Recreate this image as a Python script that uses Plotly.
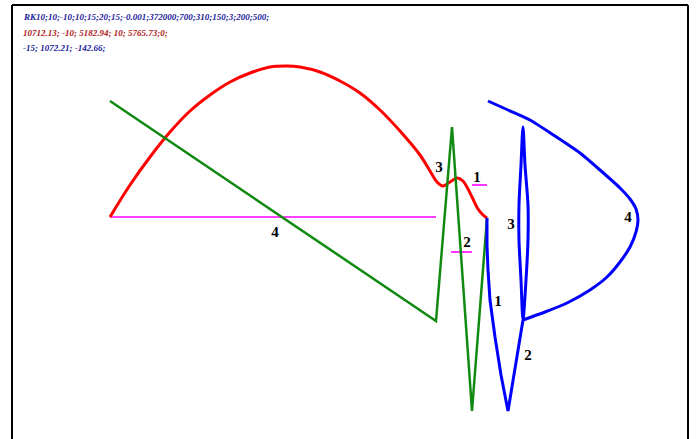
import plotly.graph_objects as go

# Values (screen-like units, y grows downward)
red_x = [110, 130, 150, 170, 190, 210, 230, 250, 270, 287, 300, 320, 340, 360, 380, 400, 420, 430,
         437, 443, 450, 457, 463, 468, 472, 478, 483, 487]
red_y = [217, 185, 157, 132, 111, 95, 82, 73, 67, 66, 67, 72, 81, 93, 110, 131, 155, 171,
         182, 186, 182, 178, 181, 189, 197, 209, 215, 218]

green_x = [110, 436, 452, 472, 487]
green_y = [101, 321, 127, 411, 218]

# blue: strokes 1 and 2, spindle 3, arc 4
blue_stroke_x = [487, 487, 488, 490, 495, 501, 508, 523]
blue_stroke_y = [218, 245, 270, 300, 337, 375, 411, 320]
blue_spindle_x = [523, 521, 519, 519, 521, 523, 525, 528, 528, 526, 523]
blue_spindle_y = [320, 280, 240, 205, 165, 127, 165, 205, 240, 280, 320]
blue_arc_x = [523, 545, 567, 590, 607, 620, 630, 636, 638, 636, 630, 620, 600, 580, 555, 530, 508, 488]
blue_arc_y = [320, 312, 303, 290, 277, 262, 247, 232, 220, 209, 199, 188, 170, 153, 136, 120, 110, 101]

magenta_segments = [([110, 436], [217, 217]), ([472, 487], [185, 185]), ([451, 472], [252, 252])]

label_text = ["3", "1", "2", "4", "3", "1", "2", "4"]
label_x = [439, 477, 467, 275, 511, 498, 528, 628]
label_y = [168, 178, 243, 233, 225, 302, 356, 218]

info_lines = ["RK10;10;-10;10;15;20;15;-0.001;372000;700;310;150;3;200;500;",
              "10712.13; -10; 5182.94; 10; 5765.73;0;",
              "-15; 1072.21; -142.66;"]
info_colors = ["#1c1c9c", "#b01818", "#1c1c9c"]

fig = go.Figure()

for mx, my in magenta_segments:
    fig.add_trace(go.Scatter(x=mx, y=my, mode='lines', line=dict(color='#ff00ff', width=1.6),
                             hoverinfo='skip'))

fig.add_trace(go.Scatter(x=red_x, y=red_y, mode='lines', line=dict(color='#ff0000', width=3, shape='spline'),
                         hoverinfo='skip'))
fig.add_trace(go.Scatter(x=green_x, y=green_y, mode='lines', line=dict(color='#118a11', width=2.5),
                         hoverinfo='skip'))
fig.add_trace(go.Scatter(x=blue_stroke_x, y=blue_stroke_y, mode='lines', line=dict(color='#0000ff', width=3),
                         hoverinfo='skip'))
fig.add_trace(go.Scatter(x=blue_spindle_x, y=blue_spindle_y, mode='lines',
                         line=dict(color='#0000ff', width=3, shape='spline', smoothing=0.8), hoverinfo='skip'))
fig.add_trace(go.Scatter(x=blue_arc_x, y=blue_arc_y, mode='lines',
                         line=dict(color='#0000ff', width=3, shape='spline', smoothing=0.6), hoverinfo='skip'))

fig.add_trace(go.Scatter(x=label_x, y=label_y, mode='text', text=label_text,
                         textfont=dict(family='Liberation Serif', size=15, color='black'),
                         texttemplate='<b>%{text}</b>', hoverinfo='skip'))

# header lines
for i, (txt, col) in enumerate(zip(info_lines, info_colors)):
    fig.add_annotation(x=21, y=17 + i * 15.5, xref='x', yref='y', text=f'<b><i>{txt}</i></b>',
                       showarrow=False, xanchor='left', yanchor='middle',
                       font=dict(family='Liberation Serif', size=9, color=col))

# frame (left, top, right)
fig.add_shape(type='line', x0=12, x1=12, y0=5, y1=439, xref='x', yref='y', line=dict(color='black', width=2))
fig.add_shape(type='line', x0=12, x1=688, y0=5, y1=5, xref='x', yref='y', line=dict(color='black', width=2))
fig.add_shape(type='line', x0=688, x1=688, y0=5, y1=439, xref='x', yref='y', line=dict(color='black', width=2))

fig.update_layout(
    width=697, height=439,
    margin=dict(l=0, r=0, t=0, b=0),
    paper_bgcolor='white', plot_bgcolor='white',
    showlegend=False,
    xaxis=dict(range=[0, 697], visible=False, fixedrange=True),
    yaxis=dict(range=[439, 0], visible=False, fixedrange=True),
)

# drop the default page margin so the figure sits at the window origin
fig.write_html("out.html", config={'displayModeBar': False},
               post_script="document.body.style.margin='0';document.body.style.overflow='hidden';")
